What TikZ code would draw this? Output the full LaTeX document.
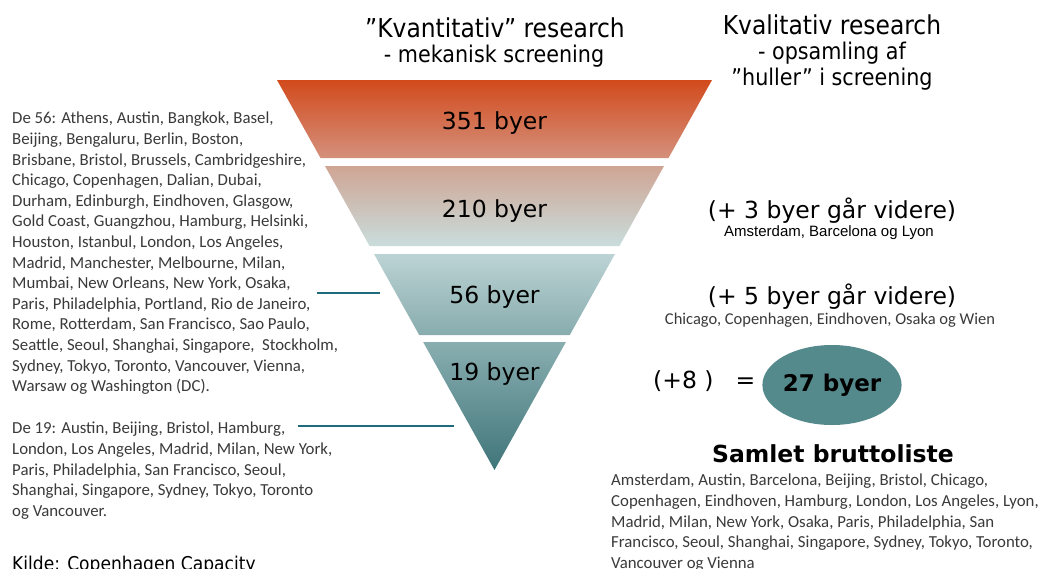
\documentclass[tikz,border=0pt]{standalone}
\usepackage{fontspec}
\setmainfont{Carlito}
\newfontfamily\verd[FakeStretch=0.9]{DejaVu Sans}
\newfontfamily\verdn{DejaVu Sans}
\newfontfamily\arialfont{Liberation Sans}
\usepackage{tikz}
\usetikzlibrary{shapes,calc}
\definecolor{fa}{HTML}{D24A1C}
\definecolor{fb}{HTML}{D4907C}
\definecolor{fc}{HTML}{CFA594}
\definecolor{fd}{HTML}{C9DDDC}
\definecolor{fe}{HTML}{BCD3D4}
\definecolor{ff}{HTML}{88ACAE}
\definecolor{fg}{HTML}{89AEB0}
\definecolor{fh}{HTML}{3F757A}
\definecolor{ovalteal}{HTML}{558A8D}
\definecolor{lineteal}{HTML}{1F6A7C}
\definecolor{listgray}{HTML}{3A3A3A}
\tikzstyle{title} = [anchor=base, inner sep=0pt, font=\verd\fontsize{26}{30}\selectfont]
\tikzstyle{sub} = [anchor=base, inner sep=0pt, font=\verd\fontsize{23}{27}\selectfont]
\tikzstyle{count} = [anchor=base, inner sep=0pt, font=\verdn\fontsize{23.5}{28}\selectfont]
\tikzstyle{list} = [anchor=north west, align=left, inner sep=0pt, text=listgray, font=\fontsize{16.8}{20.6}\selectfont]
\tikzstyle{small} = [anchor=base, inner sep=0pt, font=\arialfont\fontsize{15}{17}\selectfont]
\tikzstyle{line} = [draw=lineteal, line width=1.5pt]
\tikzstyle{oval} = [ellipse, fill=ovalteal, inner sep=0pt, minimum width=137pt, minimum height=80pt, font=\verdn\bfseries\fontsize{23}{28}\selectfont]

\begin{document}
\begin{tikzpicture}[x=1pt, y=-1pt]
      \useasboundingbox (0, 0) rectangle (1060, 568);
      \fill [white] (0, 0) rectangle (1060, 568);
      \pgfmathsetmacro{\cx}{494.5}
      \pgfmathsetmacro{\tip}{470}
      \pgfmathsetmacro{\sl}{0.5577}
      % funnel
      \foreach \yt/\yb/\ct/\cb in {80/158/fa/fb, 166/246/fc/fd, 254/335/fe/ff, 342/470/fg/fh}
        \shade [top color=\ct, bottom color=\cb] ({\cx - \sl * (\tip - \yt)}, \yt) -- ({\cx + \sl * (\tip - \yt)}, \yt)
          -- ({\cx + \sl * (\tip - \yb)}, \yb) -- ({\cx - \sl * (\tip - \yb)}, \yb) -- cycle;
      \node [count] at (\cx, 129.5) (n351) {351 byer};
      \node [count] at (\cx, 217.5) (n210) {210 byer};
      \node [count] at (\cx, 303) (n56) {56 byer};
      \node [count] at (\cx, 380) (n19) {19 byer};
      % headings
      \node [title] at (495, 37) (quant) {”Kvantitativ” research};
      \node [sub] at (494, 62) (quantsub) {- mekanisk screening};
      \node [title] at (832, 34) (qual) {Kvalitativ research};
      \node [sub] at (832, 59) (qualsub1) {- opsamling af};
      \node [sub] at (832, 85) (qualsub2) {”huller” i screening};
      % left lists
      \node [list] at (12, 112) (list56) {De 56: Athens, Austin, Bangkok, Basel,\\
        Beijing, Bengaluru, Berlin, Boston,\\
        Brisbane, Bristol, Brussels, Cambridgeshire,\\
        Chicago, Copenhagen, Dalian, Dubai,\\
        Durham, Edinburgh, Eindhoven, Glasgow,\\
        Gold Coast, Guangzhou, Hamburg, Helsinki,\\
        Houston, Istanbul, London, Los Angeles,\\
        Madrid, Manchester, Melbourne, Milan,\\
        Mumbai, New Orleans, New York, Osaka,\\
        Paris, Philadelphia, Portland, Rio de Janeiro,\\
        Rome, Rotterdam, San Francisco, Sao Paulo,\\
        Seattle, Seoul, Shanghai, Singapore,\ \ Stockholm,\\
        Sydney, Tokyo, Toronto, Vancouver, Vienna,\\
        Warsaw og Washington (DC).};
      \node [list] at (12, 422) (list19) {De 19: Austin, Beijing, Bristol, Hamburg,\\
        London, Los Angeles, Madrid, Milan, New York,\\
        Paris, Philadelphia, San Francisco, Seoul,\\
        Shanghai, Singapore, Sydney, Tokyo, Toronto\\
        og Vancouver.};
      \node [anchor=base west, inner sep=0pt, font=\verd\fontsize{19}{23}\selectfont] at (12, 570) (kilde) {Kilde: Copenhagen Capacity};
      \coordinate (c56a) at (317, 293);
      \coordinate (c56b) at (380, 293);
      \coordinate (c19a) at (298, 426);
      \coordinate (c19b) at (454, 426);
      \draw [line] (c56a) -- (c56b);
      \draw [line] (c19a) -- (c19b);
      % right side
      \node [count] at (832, 218) (plus3) {(+ 3 byer går videre)};
      \node [small] at (829, 236) (plus3list) {Amsterdam, Barcelona og Lyon};
      \node [count] at (832, 304) (plus5) {(+ 5 byer går videre)};
      \node [anchor=base, inner sep=0pt, text=listgray, font=\fontsize{16.5}{20}\selectfont] at (830, 324) (plus5list) {Chicago, Copenhagen, Eindhoven, Osaka og Wien};
      \node [count, anchor=base west] at (653, 388) (plus8) {(+8 )};
      \node [count] at (745.5, 388) (eq) {=};
      \node [oval] at (832, 385) (total) {27 byer};
      \node [anchor=base, inner sep=0pt, font=\verdn\bfseries\fontsize{23.5}{28}\selectfont] at (833, 462) (samlet) {Samlet bruttoliste};
      \node [list] at (611, 474) (listall) {Amsterdam, Austin, Barcelona, Beijing, Bristol, Chicago,\\
        Copenhagen, Eindhoven, Hamburg, London, Los Angeles, Lyon,\\
        Madrid, Milan, New York, Osaka, Paris, Philadelphia, San\\
        Francisco, Seoul, Shanghai, Singapore, Sydney, Tokyo, Toronto,\\
        Vancouver og Vienna};
    \end{tikzpicture}
\end{document}
